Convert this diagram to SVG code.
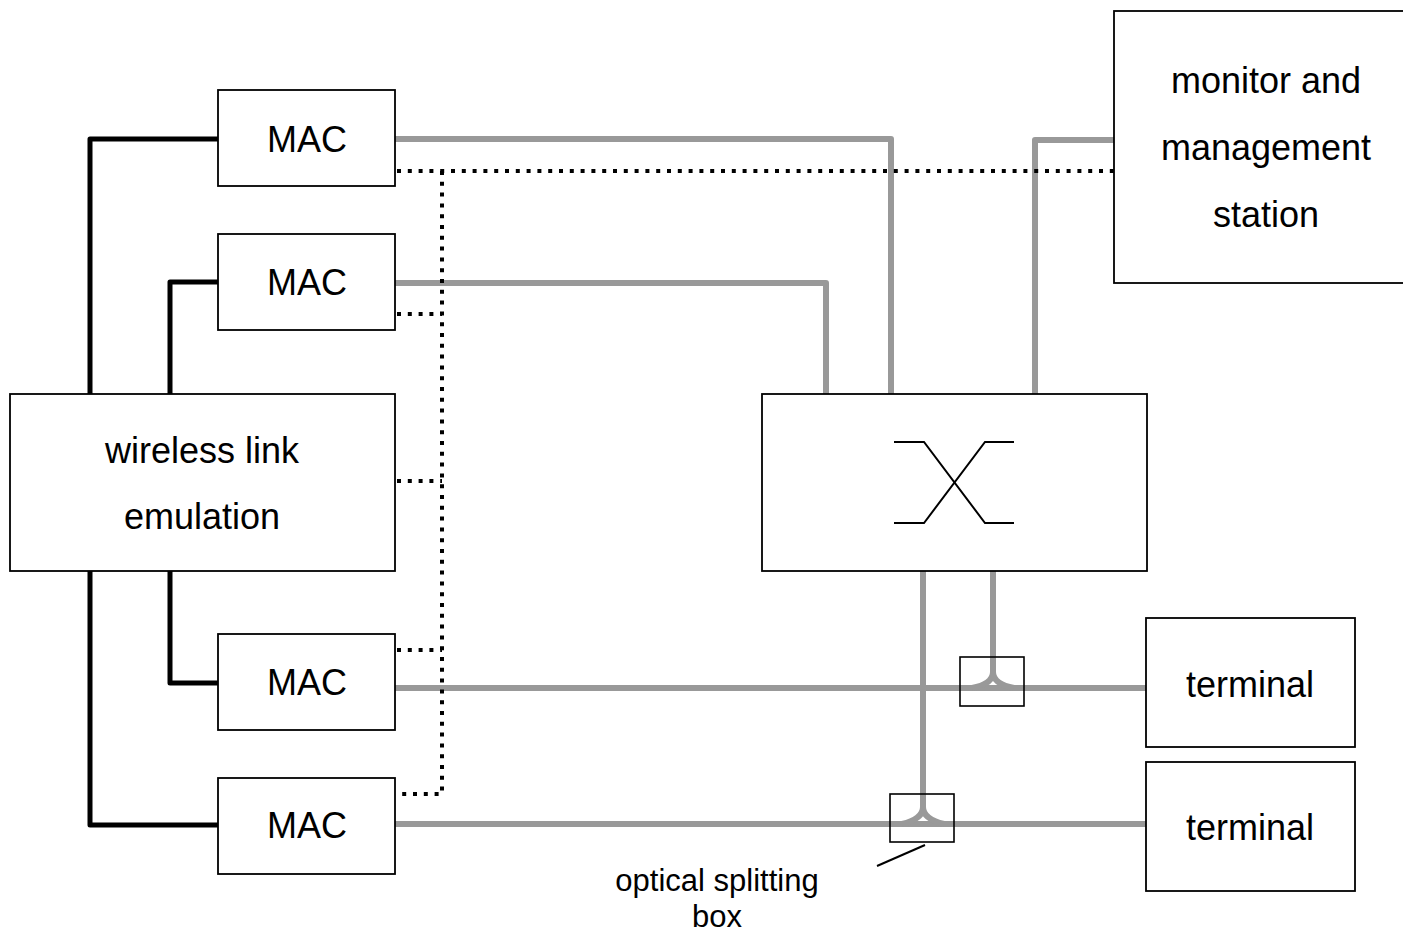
<svg xmlns="http://www.w3.org/2000/svg" width="1403" height="933" viewBox="0 0 1403 933">
<style>
.box{fill:#fff;stroke:#000;stroke-width:1.8}
.lbl{font-family:"Liberation Sans",Arial,sans-serif;font-size:36px;fill:#000;text-anchor:middle}
.small{font-size:31px}
.blk{fill:none;stroke:#000;stroke-width:5;stroke-linejoin:round}
.gry{fill:none;stroke:#999;stroke-width:6;stroke-linejoin:round}
.dot{fill:none;stroke:#000;stroke-width:4;stroke-dasharray:4 6.8}
.thin{fill:none;stroke:#000;stroke-width:2}
</style>
<rect width="1403" height="933" fill="#fff"/>
<g id="connectors">
  <path class="blk" d="M218,139 H90 V394"/>
  <path class="blk" d="M218,282 H170 V394"/>
  <path class="blk" d="M170,571 V683 H218"/>
  <path class="blk" d="M90,571 V825 H218"/>
  <path class="gry" d="M395,139 H891 V394"/>
  <path class="gry" d="M395,283 H826 V394"/>
  <path class="gry" d="M1114,140 H1035 V394"/>
  <path class="gry" d="M395,688 H1146"/>
  <path class="gry" d="M395,824 H1146"/>
  <path class="gry" d="M923,571 V807 Q923,819 902,824"/>
  <path class="gry" d="M923,807 Q923,819 944,824"/>
  <path class="gry" d="M993,571 V672 Q993,684 972,688"/>
  <path class="gry" d="M993,672 Q993,684 1014,688"/>
  <path class="dot" d="M397,171 H1114"/>
  <path class="dot" d="M442,171 V794 H397"/>
  <path class="dot" d="M397,314 H442"/>
  <path class="dot" d="M397,481 H442"/>
  <path class="dot" d="M397,650 H442"/>
  <path class="thin" d="M925,845 L877,866" stroke-width="1.6"/>
</g>
<g id="mac1"><rect class="box" x="218" y="90" width="177" height="96"/><text class="lbl" x="307" y="152">MAC</text></g>
<g id="mac2"><rect class="box" x="218" y="234" width="177" height="96"/><text class="lbl" x="307" y="295">MAC</text></g>
<g id="mac3"><rect class="box" x="218" y="634" width="177" height="96"/><text class="lbl" x="307" y="695">MAC</text></g>
<g id="mac4"><rect class="box" x="218" y="778" width="177" height="96"/><text class="lbl" x="307" y="838">MAC</text></g>
<g id="wireless"><rect class="box" x="10" y="394" width="385" height="177"/><text class="lbl" x="202" y="463">wireless link</text><text class="lbl" x="202" y="529">emulation</text></g>
<g id="monitor"><rect class="box" x="1114" y="11" width="300" height="272"/><text class="lbl" x="1266" y="93">monitor and</text><text class="lbl" x="1266" y="160">management</text><text class="lbl" x="1266" y="227">station</text></g>
<g id="switch"><rect class="box" x="762" y="394" width="385" height="177"/><path class="thin" d="M894,442 H924 L985,523 H1014 M894,523 H924 L985,442 H1014"/></g>
<g id="terminal1"><rect class="box" x="1146" y="618" width="209" height="129"/><text class="lbl" x="1250" y="697">terminal</text></g>
<g id="terminal2"><rect class="box" x="1146" y="762" width="209" height="129"/><text class="lbl" x="1250" y="840">terminal</text></g>
<g id="splitter1"><rect x="960" y="657" width="64" height="49" fill="none" stroke="#000" stroke-width="1.6"/></g>
<g id="splitter2"><rect x="890" y="794" width="64" height="48" fill="none" stroke="#000" stroke-width="1.6"/></g>
<g id="label"><text class="lbl small" x="717" y="891">optical splitting</text><text class="lbl small" x="717" y="927">box</text></g>
</svg>
